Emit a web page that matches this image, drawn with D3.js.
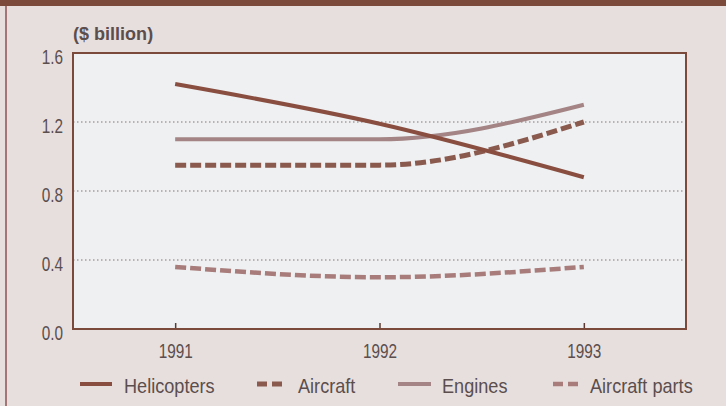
<!DOCTYPE html>
<html><head><meta charset="utf-8">
<script src="https://cdn.jsdelivr.net/npm/d3@7"></script>
<style>
html,body{margin:0;padding:0;background:#e7dfde;}
svg{display:block;}
text{font-family:"Liberation Sans",Arial,sans-serif;fill:#5b4e4d;}
</style></head><body>
<svg id="c" width="726" height="406"></svg>
<script>
const years = [1991, 1992, 1993];
const helicopters = [1.42, 1.19, 0.88];
const aircraft = [0.95, 0.95, 1.20];
const engines = [1.10, 1.10, 1.30];
const aircraftParts = [0.36, 0.30, 0.36];
const yTicks = [0.0, 0.4, 0.8, 1.2, 1.6];
const seriesNames = ["Helicopters", "Aircraft", "Engines", "Aircraft parts"];

const svg = d3.select("#c");
const W = 726, H = 406;
const L = 73, R = 686, T = 53, B = 329;
const NARROW = 0.73;

svg.append("rect").attr("x",0).attr("y",0).attr("width",W).attr("height",H).attr("fill","#e7dfde");
svg.append("rect").attr("x",0).attr("y",0).attr("width",W).attr("height",6).attr("fill","#7b4a3b");
svg.append("rect").attr("x",5).attr("y",6).attr("width",2).attr("height",H-6).attr("fill","#a27674");

const x = d3.scaleLinear().domain([1990.5, 1993.5]).range([L, R]);
const y = d3.scaleLinear().domain([0, 1.6]).range([B, T]);

svg.append("rect").attr("x",L).attr("y",T).attr("width",R-L).attr("height",B-T).attr("fill","#eef0f2");

// gridlines
svg.append("g").selectAll("line").data(yTicks.filter(d=>d>0 && d<1.6)).join("line")
  .attr("x1",L).attr("x2",R).attr("y1",d=>y(d)).attr("y2",d=>y(d))
  .attr("stroke","#8a7070").attr("stroke-width",1.2).attr("stroke-dasharray","1.5,2.5");

// y axis labels
const yAxis = d3.axisLeft(y).tickValues(yTicks).tickFormat(d3.format(".1f")).tickSize(0);
const ga = svg.append("g").attr("transform",`translate(${L},0)`).call(yAxis);
ga.select(".domain").remove();
ga.selectAll("text").attr("x",0).attr("y",0).attr("dy",null)
  .attr("transform",`translate(-10,10.5) scale(${NARROW},1)`)
  .attr("font-size",21).style("font-family",'"Liberation Sans",Arial,sans-serif').attr("fill","#5b4e4d");

// x axis
const xAxis = d3.axisBottom(x).tickValues(years).tickFormat(d3.format("d")).tickSize(-6);
const gx = svg.append("g").attr("transform",`translate(0,${B})`).call(xAxis);
gx.select(".domain").remove();
gx.selectAll("line").attr("stroke","#5a3a32").attr("stroke-width",1.5);
gx.selectAll("text").attr("x",0).attr("y",0).attr("dy",null)
  .attr("transform",`translate(0,29) scale(${NARROW},1)`)
  .attr("font-size",21).style("font-family",'"Liberation Sans",Arial,sans-serif').attr("fill","#5b4e4d");

// plot frame
svg.append("rect").attr("x",L).attr("y",T).attr("width",R-L).attr("height",B-T)
  .attr("fill","none").attr("stroke","#7b4a3b").attr("stroke-width",2);

svg.append("text").attr("transform",`translate(${L},40) scale(0.95,1)`)
  .attr("font-size",19).attr("font-weight","bold").text("($ billion)");

const styles = [
  {data: helicopters, color:"#8a4e40", w:4, dash:null},
  {data: aircraft, color:"#8a5a4e", w:5, dash:"11,4"},
  {data: engines, color:"#a48484", w:4, dash:null},
  {data: aircraftParts, color:"#a87c7a", w:4.5, dash:"11,4"}
];
const line = d3.line().x((d,i)=>x(years[i])).y(d=>y(d)).curve(d3.curveMonotoneX);
const order = [2,3,1,0];
order.forEach(k=>{
  const s = styles[k];
  const p = svg.append("path").attr("d", line(s.data)).attr("fill","none")
    .attr("stroke",s.color).attr("stroke-width",s.w).attr("stroke-linecap","butt");
  if (s.dash) p.attr("stroke-dasharray", s.dash);
});

// legend
const legX = [80, 257, 398, 553];
const legLen = [32, 25, 33, 25];
const legTxt = [124, 298, 442, 590];
const ly = 384;
seriesNames.forEach((n,k)=>{
  const s = styles[k];
  const l = svg.append("line").attr("x1",legX[k]).attr("x2",legX[k]+legLen[k]).attr("y1",ly).attr("y2",ly)
    .attr("stroke",s.color).attr("stroke-width",s.w);
  if (s.dash) l.attr("stroke-dasharray", "10,5");
  svg.append("text").attr("transform",`translate(${legTxt[k]},393) scale(0.93,1)`)
    .attr("font-size",19.5).text(n);
});
</script>
</body></html>
